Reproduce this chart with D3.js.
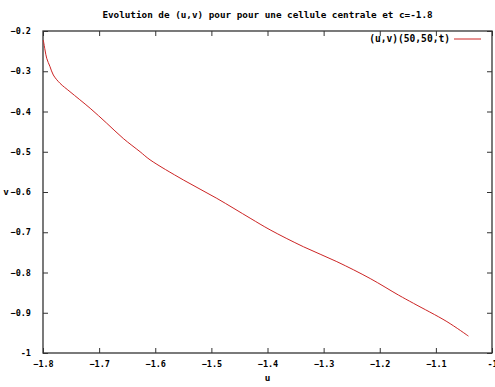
<!DOCTYPE html>
<html>
<head>
<meta charset="utf-8">
<script src="https://cdn.jsdelivr.net/npm/d3@7"></script>
<style>
  body { margin: 0; background: #fff; }
  svg text { font-family: "DejaVu Sans Mono", monospace; font-weight: bold; font-size: 9.3px; fill: #000; }
</style>
</head>
<body>
<svg></svg>
<script>
// curve (u,v)(50,50,t)
let uValues = [-1.7995, -1.7964, -1.7934, -1.7875, -1.7816, -1.7697, -1.7519, -1.716, -1.6865, -1.657, -1.627,
               -1.6093, -1.55, -1.4904, -1.431, -1.3954, -1.336, -1.2765, -1.217, -1.1667, -1.14, -1.0804, -1.042]
let vValues = [-0.2224, -0.2472, -0.2678, -0.2887, -0.3093, -0.3299, -0.3508, -0.392, -0.429, -0.467, -0.5,
               -0.52, -0.57, -0.6157, -0.665, -0.694, -0.736, -0.773, -0.815, -0.856, -0.8765, -0.922, -0.958]

let xTicks = [-1.8, -1.7, -1.6, -1.5, -1.4, -1.3, -1.2, -1.1, -1]
let yTicks = [-0.2, -0.3, -0.4, -0.5, -0.6, -0.7, -0.8, -0.9, -1]

let width = 495
let height = 387
let plotLeft = 43, plotRight = 492, plotTop = 31, plotBottom = 353

let svg = d3.select("svg").attr("width", width).attr("height", height)

let xScale = d3.scaleLinear().domain([-1.8, -1]).range([plotLeft, plotRight])
let yScale = d3.scaleLinear().domain([-1, -0.2]).range([plotBottom, plotTop])

let fmt = (d) => d === -1 ? "-1" : d3.format(".1f")(d)

let tickLen = 5

// bottom axis + mirror ticks on top
let xAxis = d3.axisBottom(xScale).tickValues(xTicks).tickFormat(fmt).tickSizeInner(-tickLen).tickSizeOuter(0).tickPadding(8)
let gx = svg.append("g").attr("transform", "translate(0," + plotBottom + ")").call(xAxis)
gx.select(".domain").remove()

let xTop = d3.axisTop(xScale).tickValues(xTicks).tickFormat("").tickSizeInner(-tickLen).tickSizeOuter(0)
let gxt = svg.append("g").attr("transform", "translate(0," + plotTop + ")").call(xTop)
gxt.select(".domain").remove()

let yAxis = d3.axisLeft(yScale).tickValues(yTicks).tickFormat(fmt).tickSizeInner(-tickLen).tickSizeOuter(0).tickPadding(12)
let gy = svg.append("g").attr("transform", "translate(" + plotLeft + ",0)").call(yAxis)
gy.select(".domain").remove()

let yRight = d3.axisRight(yScale).tickValues(yTicks).tickFormat("").tickSizeInner(-tickLen).tickSizeOuter(0)
let gyr = svg.append("g").attr("transform", "translate(" + plotRight + ",0)").call(yRight)
gyr.select(".domain").remove()

svg.selectAll(".tick line").attr("stroke", "#333").attr("stroke-width", 1)
svg.selectAll(".tick text").style("font-family", "DejaVu Sans Mono, monospace").style("font-size", "8.5px").attr("fill", "#000")

// border
svg.append("rect")
   .attr("x", plotLeft).attr("y", plotTop)
   .attr("width", plotRight - plotLeft).attr("height", plotBottom - plotTop)
   .attr("fill", "none").attr("stroke", "#333").attr("stroke-width", 1.3)

// curve
let points = uValues.map((u, i) => [u, vValues[i]])
let line = d3.line().x(d => xScale(d[0])).y(d => yScale(d[1])).curve(d3.curveCatmullRom.alpha(0.5))
svg.append("path")
   .attr("d", line(points))
   .attr("fill", "none")
   .attr("stroke", "#cc2424")
   .attr("stroke-width", 1)

// title and axis labels
svg.append("text")
   .attr("x", (plotLeft + plotRight) / 2).attr("y", 18)
   .attr("text-anchor", "middle")
   .text("Evolution de (u,v) pour pour une cellule centrale et c=-1.8")

svg.append("text")
   .attr("x", (plotLeft + plotRight) / 2).attr("y", 381)
   .attr("text-anchor", "middle")
   .text("u")

svg.append("text")
   .attr("x", 6).attr("y", 195)
   .attr("text-anchor", "middle")
   .text("v")

// legend
svg.append("text")
   .attr("x", 450).attr("y", 42)
   .attr("text-anchor", "end")
   .style("font-size", "9.6px")
   .text("(u,v)(50,50,t)")

svg.append("line")
   .attr("x1", 454).attr("x2", 481)
   .attr("y1", 39).attr("y2", 39)
   .attr("stroke", "#cc2424").attr("stroke-width", 1)
</script>
</body>
</html>
